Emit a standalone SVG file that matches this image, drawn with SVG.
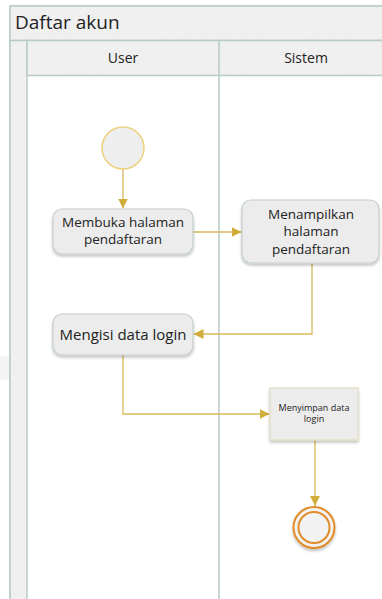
<svg xmlns="http://www.w3.org/2000/svg" width="382" height="599" viewBox="0 0 382 599">
  <defs>
    <pattern id="hatch" width="6" height="6" patternUnits="userSpaceOnUse" patternTransform="rotate(45)">
      <rect width="6" height="6" fill="#efefef"/>
      <line x1="0" y1="0" x2="0" y2="6" stroke="#f3f3f3" stroke-width="2"/>
    </pattern>
    <filter id="shadow" x="-20%" y="-20%" width="140%" height="150%">
      <feGaussianBlur in="SourceAlpha" stdDeviation="1.6"/>
      <feOffset dx="0" dy="2" result="b"/>
      <feComponentTransfer><feFuncA type="linear" slope="0.25"/></feComponentTransfer>
      <feMerge><feMergeNode/><feMergeNode in="SourceGraphic"/></feMerge>
    </filter>
    <marker id="arrow" viewBox="0 0 10 10" refX="10" refY="5" markerWidth="10" markerHeight="10" markerUnits="userSpaceOnUse" orient="auto">
      <path d="M0,0 L10,5 L0,10 Z" fill="#d1ad3c"/>
    </marker>
  </defs>
  <style>
    .pool { stroke: #b9cbc6; stroke-width: 1.5; }
    .lbl { font-family: "Open Sans", "Noto Sans", "DejaVu Sans", sans-serif; fill: #222; text-anchor: middle; }
    .act { fill: #ececec; stroke: #c3cfcc; stroke-width: 1.2; filter: url(#shadow); }
    .flow { fill: none; stroke: #d8b95a; stroke-width: 1.3; marker-end: url(#arrow); }
  </style>

  <rect width="382" height="599" fill="#ffffff"/>
  <rect x="0" y="356" width="9" height="24" fill="#f4f4f4"/>

  <!-- swimlane pool -->
  <g id="pool">
    <rect x="10" y="6" width="380" height="600" fill="#ffffff" class="pool"/>
    <rect x="10" y="6" width="380" height="34.5" fill="url(#hatch)" class="pool"/>
    <rect x="10" y="40.5" width="17" height="566" fill="url(#hatch)" class="pool"/>
    <rect x="27" y="40.5" width="363" height="35" fill="url(#hatch)" class="pool"/>
    <line x1="219" y1="40.5" x2="219" y2="606" class="pool"/>
    <text x="15" y="29" font-family="Open Sans, Noto Sans, sans-serif" font-size="19" fill="#222">Daftar akun</text>
    <text x="123" y="62.5" class="lbl" font-size="14">User</text>
    <text x="306" y="62.5" class="lbl" font-size="14">Sistem</text>
  </g>

  <!-- connectors -->
  <g id="connectors">
    <path class="flow" d="M123,169 L123,208.5"/>
    <path class="flow" d="M193,232 L241.5,232"/>
    <path class="flow" d="M312,263 L312,334 L193.5,334"/>
    <path class="flow" d="M123,355 L123,414 L269.5,414"/>
    <path class="flow" d="M315,440 L315,506"/>
  </g>

  <g id="start">
    <circle cx="123" cy="148" r="21" fill="#eeeeee" stroke="#ecd27e" stroke-width="1.5"/>
  </g>

  <g id="membuka">
    <rect x="53" y="209" width="140" height="45" rx="9" class="act"/>
    <text x="123" y="226.5" class="lbl" font-size="13.5">Membuka halaman</text>
    <text x="123" y="244" class="lbl" font-size="13.5">pendaftaran</text>
  </g>

  <g id="menampilkan">
    <rect x="242" y="200" width="137" height="63" rx="9" class="act"/>
    <text x="311" y="218.5" class="lbl" font-size="13.5">Menampilkan</text>
    <text x="311" y="236" class="lbl" font-size="13.5">halaman</text>
    <text x="311" y="253.5" class="lbl" font-size="13.5">pendaftaran</text>
  </g>

  <g id="mengisi">
    <rect x="53" y="314" width="140" height="41" rx="9" class="act"/>
    <text x="123" y="339.5" class="lbl" font-size="15">Mengisi data login</text>
  </g>

  <g id="menyimpan">
    <rect x="270" y="388" width="88" height="52" fill="#ececec" stroke="#e3dcc0" stroke-width="1.2" filter="url(#shadow)"/>
    <text x="314" y="410.5" class="lbl" font-size="9">Menyimpan data</text>
    <text x="314" y="422" class="lbl" font-size="9">login</text>
  </g>

  <g id="end">
    <circle cx="314" cy="527.5" r="20.5" fill="#f2f2f2" stroke="#e08c2a" stroke-width="2" filter="url(#shadow)"/>
    <circle cx="314" cy="527.5" r="15.5" fill="#f2f2f2" stroke="#e08c2a" stroke-width="2"/>
  </g>
</svg>
